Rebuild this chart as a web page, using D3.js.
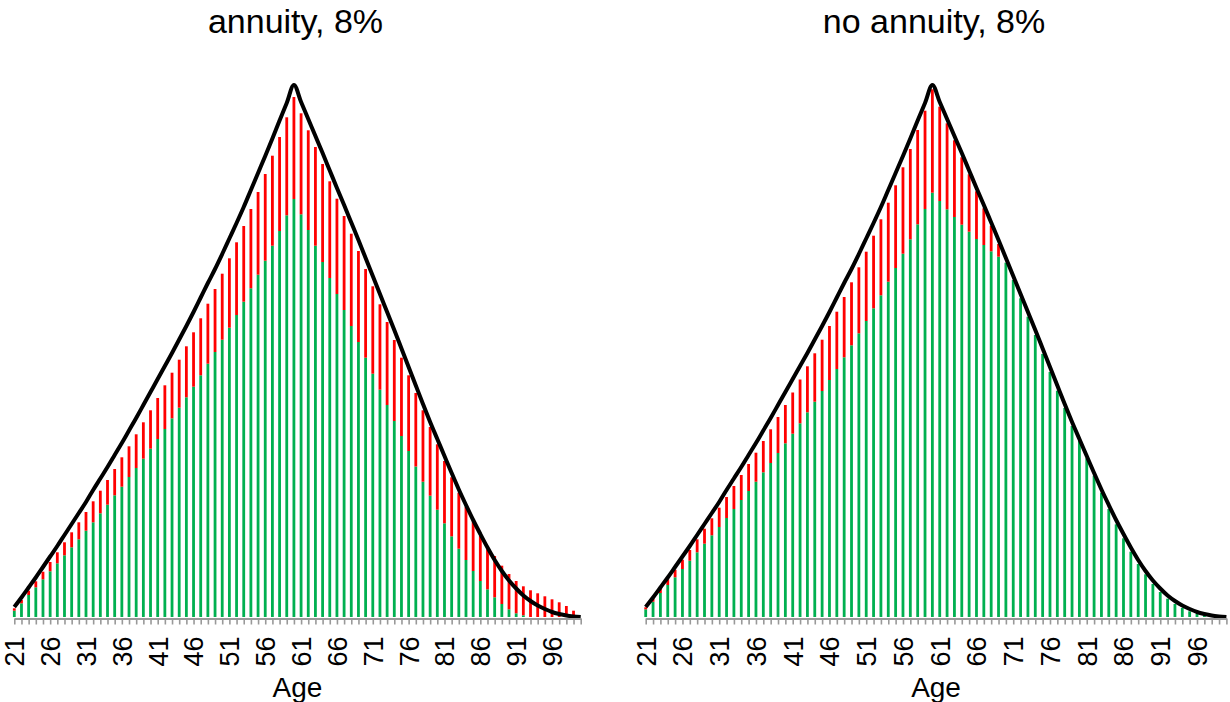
<!DOCTYPE html>
<html>
<head>
<meta charset="utf-8">
<script src="https://cdn.jsdelivr.net/npm/d3@7"></script>
<style>
  body { margin: 0; background: #fff; }
  text { font-family: "Liberation Sans", Arial, sans-serif; fill: #000; }
</style>
</head>
<body>
<svg id="chart" width="1230" height="702"></svg>
<script>
// ages on the x axis and which of them get a label
var ages = d3.range(21, 101);
var tickLabels = ["21","26","31","36","41","46","51","56","61","66","71","76","81","86","91","96"];

var titles = ["annuity, 8%", "no annuity, 8%"];

// black curve (same in both panels)
var lineVals = [
  10, 19.5, 29.5, 39.5, 50, 60.5, 71, 82, 93, 104,
  115, 127, 138.5, 150, 162, 174, 186.5, 199, 212, 225,
  238, 251, 264, 277.5, 291, 305, 319.5, 334, 348, 363,
  378.5, 394, 410, 427, 444, 461, 478.5, 496.5, 514, 532,
  515, 498, 481, 464, 446.5, 429, 412, 394.5, 377, 359,
  341, 323, 305, 287, 268.5, 250, 231.5, 213, 195, 178,
  161, 144, 127.5, 112, 97, 83, 69.5, 57, 46, 36.5,
  28.5, 21.5, 16, 11.5, 8, 5, 3, 1.5, 0.6, 0
];

var annuityGreen = [
  6.3, 13.7, 22, 29.7, 37.7, 45.7, 53.7, 61.7, 69.7, 77.7,
  86.3, 94.7, 103.7, 112.3, 121.7, 130.3, 140, 149, 158.3, 168.3,
  178, 188, 198.7, 209.3, 219.7, 230.3, 241.7, 253.3, 265, 277.3,
  289.3, 302, 315.3, 328.7, 342.3, 356.3, 371.3, 386, 401.7, 418,
  402.7, 387, 371.3, 355, 339, 323, 307, 291, 275, 259.3,
  243.3, 227.3, 212, 196, 181, 166, 150.5, 135.3, 121.3, 107.3,
  93.7, 80.7, 68.3, 57, 46, 36, 27.7, 19.7, 13, 7.7,
  3.7, 1.7, 0, 0, 0, 0, 0, 0, 0, 0
];
var annuityRed = [
  2.4, 3.3, 4.3, 6, 7.6, 9.3, 11, 13, 15, 17,
  18.7, 21, 22.6, 24.7, 26.3, 29.4, 30.7, 33.7, 36.4, 38.4,
  41, 43.7, 45.6, 48, 51, 54.4, 57, 60, 63, 66,
  69.4, 72.7, 75.7, 79.3, 82.7, 86.7, 90, 94, 98, 102,
  101, 99.7, 98.7, 98, 96.7, 95.3, 94, 92.3, 91, 88.7,
  87.4, 85.4, 83, 81, 78.3, 75.7, 73.5, 71.4, 68.7, 65.4,
  62.3, 59, 56, 53, 49.7, 45.3, 40, 41.3, 38.3, 35.3,
  32.3, 29, 26.7, 23.7, 20.7, 17.7, 14.7, 11, 6.3, 0
];

var noAnnuityGreen = [
  7.7, 15.3, 24, 32, 39.7, 48, 56.3, 64.7, 73.3, 81.7,
  90, 99, 108, 117, 126, 135.3, 144.7, 154, 164, 173.7,
  183.3, 193.7, 204.7, 215.3, 226, 237, 248, 259.7, 271.7, 283.7,
  296, 308.7, 321.7, 335.3, 349, 363.3, 377.7, 392.7, 408, 424.3,
  416, 407.7, 400, 392.3, 385.3, 378, 372, 365.7, 360.3, 354.3,
  337, 318.7, 300.3, 282, 263, 245, 226.3, 209, 191, 176.3,
  158.7, 141.3, 124.3, 108, 92.7, 78.7, 65.3, 53, 42.7, 33,
  25, 18.3, 13, 9, 5.7, 3, 1.7, 0.7, 0.3, 0
];
var noAnnuityRed = [
  2, 3, 4.3, 5.7, 7.6, 9.3, 10.7, 13, 15, 17,
  19.3, 21, 23, 25, 27, 29, 31.3, 33.7, 36, 38.3,
  41.2, 43.8, 46, 48.4, 51.3, 54, 57.3, 60.3, 63, 66,
  69.3, 72.6, 76, 79, 82.7, 86.4, 90.3, 94.3, 98.3, 103.4,
  94.3, 86, 76.7, 67.4, 57.4, 47.7, 36.7, 25.6, 12.7, 0,
  0, 0, 0, 0, 0, 0, 0, 0, 0, 0,
  0, 0, 0, 0, 0, 0, 0, 0, 0, 0,
  0, 0, 0, 0, 0, 0, 0, 0, 0, 0
];

var svg = d3.select("#chart");
var baseY = 617;
var y = d3.scaleLinear().domain([0, 532]).range([baseY, 85]);

var panels = [
  {title: titles[0], green: annuityGreen, red: annuityRed, range: [14.3, 580.7]},
  {title: titles[1], green: noAnnuityGreen, red: noAnnuityRed, range: [645.7, 1226.4]}
];

panels.forEach(function(p) {
  var x = d3.scalePoint().domain(ages).range(p.range);
  var cx = (p.range[0] + p.range[1]) / 2;
  var g = svg.append("g");

  var rows = ages.map(function(a, i) { return {age: a, green: p.green[i], red: p.red[i]}; });
  var stack = d3.stack().keys(["green", "red"])(rows);
  var colors = {green: "#00b050", red: "#ff0000"};
  var bw = 2.8;

  g.selectAll(".layer")
    .data(stack)
    .enter().append("g")
    .attr("fill", function(d) { return colors[d.key]; })
    .selectAll("rect")
    .data(function(d) { return d; })
    .enter().append("rect")
    .attr("x", function(d) { return x(d.data.age) - bw / 2; })
    .attr("y", function(d) { return y(d[1]); })
    .attr("width", bw)
    .attr("height", function(d) { return Math.max(0, y(d[0]) - y(d[1])); });

  var line = d3.line()
    .x(function(d, i) { return x(ages[i]); })
    .y(function(d) { return y(d); })
    .curve(d3.curveMonotoneX);

  g.append("path")
    .datum(lineVals)
    .attr("d", line)
    .attr("fill", "none")
    .attr("stroke", "#000")
    .attr("stroke-width", 4)
    .attr("stroke-linejoin", "round");

  var axis = g.append("g")
    .attr("transform", "translate(0," + (baseY + 1.5) + ")")
    .call(d3.axisBottom(x)
      .tickValues(ages)
      .tickSize(6)
      .tickSizeOuter(0)
      .tickFormat(function(a) { return tickLabels.indexOf(String(a)) >= 0 ? a : ""; }));

  axis.select(".domain").attr("stroke", "#999").attr("stroke-width", 2);
  axis.selectAll(".tick line").attr("stroke", "#999").attr("stroke-width", 1.6);
  axis.selectAll(".tick text")
    .attr("transform", "rotate(-90)")
    .attr("x", -18)
    .attr("y", 0)
    .attr("dy", "0.35em")
    .attr("text-anchor", "end")
    .attr("fill", "#000")
    .style("font-size", "27px")
    .style("font-family", "'Liberation Sans', Arial, sans-serif");

  g.append("text")
    .attr("x", cx)
    .attr("y", 697)
    .attr("text-anchor", "middle")
    .style("font-size", "28px")
    .text("Age");

  g.append("text")
    .attr("x", cx - 2)
    .attr("y", 33)
    .attr("text-anchor", "middle")
    .style("font-size", "34px")
    .text(p.title);
});
</script>
</body>
</html>
